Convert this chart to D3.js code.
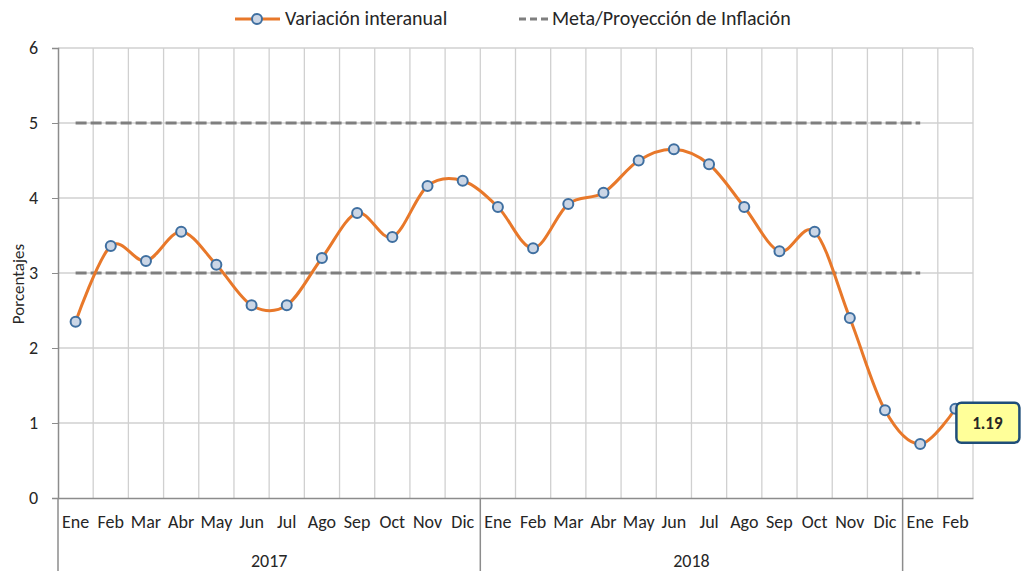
<!DOCTYPE html>
<html>
<head>
<meta charset="utf-8">
<script src="https://cdn.jsdelivr.net/npm/d3@7"></script>
<style>
  body { margin: 0; background: #fff; }
  svg text { font-family: Calibri, Carlito, "Liberation Sans", Arial, sans-serif; fill: #262626; }
</style>
</head>
<body>
<svg id="chart" width="1021" height="571"></svg>
<script>
// chart data
var months = ["Ene","Feb","Mar","Abr","May","Jun","Jul","Ago","Sep","Oct","Nov","Dic",
              "Ene","Feb","Mar","Abr","May","Jun","Jul","Ago","Sep","Oct","Nov","Dic",
              "Ene","Feb"];
var yearLabels = ["2017", "2018", ""];
var yearStart = [0, 12, 24];
var variacion = [2.35, 3.36, 3.16, 3.55, 3.11, 2.57, 2.57, 3.20, 3.80, 3.48, 4.16, 4.23,
                 3.88, 3.33, 3.92, 4.07, 4.50, 4.65, 4.45, 3.88, 3.29, 3.55, 2.40, 1.17,
                 0.72, 1.19];
var metaSup = [5,5,5,5,5,5,5,5,5,5,5,5,5,5,5,5,5,5,5,5,5,5,5,5,5];
var metaInf = [3,3,3,3,3,3,3,3,3,3,3,3,3,3,3,3,3,3,3,3,3,3,3,3,3];
var yTicks = [0, 1, 2, 3, 4, 5, 6];

var margin = {top: 48, left: 58},
    width = 915,
    height = 450;

var svg = d3.select("#chart");
var g = svg.append("g").attr("transform", "translate(" + margin.left + "," + margin.top + ")");

var x = d3.scaleBand().domain(d3.range(months.length)).range([0, width]).padding(0);
var y = d3.scaleLinear().domain([0, 6]).range([height, 0]);
var cx = function (i) { return x(i) + x.bandwidth() / 2; };

// gridlines
g.selectAll(".hgrid").data(yTicks.slice(1)).enter().append("line")
    .attr("x1", 0).attr("x2", width)
    .attr("y1", function (d) { return y(d); }).attr("y2", function (d) { return y(d); })
    .attr("stroke", "#d0d0d0").attr("stroke-width", 1.3);
g.selectAll(".vgrid").data(d3.range(1, months.length + 1)).enter().append("line")
    .attr("x1", function (d) { return d * x.step(); }).attr("x2", function (d) { return d * x.step(); })
    .attr("y1", 0).attr("y2", height)
    .attr("stroke", "#d0d0d0").attr("stroke-width", 1.3);

// y axis
var yAxis = g.append("g").call(d3.axisLeft(y).tickValues(yTicks).tickSize(6).tickPadding(14).tickFormat(d3.format("d")));
yAxis.select(".domain").attr("stroke", "#8c8c8c").attr("stroke-width", 1.5);
yAxis.selectAll(".tick line").attr("stroke", "#8c8c8c");
yAxis.selectAll("text").style("font-size", "18px").attr("fill", "#262626");

// x axis
var xAxis = g.append("g").attr("transform", "translate(0," + height + ")")
    .call(d3.axisBottom(x).tickSize(0).tickPadding(17).tickFormat(function (i) { return months[i]; }));
xAxis.select(".domain").attr("stroke", "#8c8c8c").attr("stroke-width", 1.5);
xAxis.selectAll("text").style("font-size", "18px").attr("fill", "#262626");

// year groups
g.selectAll(".ysep").data(yearStart).enter().append("line")
    .attr("x1", function (d) { return x(d); }).attr("x2", function (d) { return x(d); })
    .attr("y1", height).attr("y2", height + 80)
    .attr("stroke", "#8c8c8c").attr("stroke-width", 1.5);
g.selectAll(".ylab").data(yearLabels).enter().append("text")
    .attr("x", function (d, i) {
        var end = i + 1 < yearStart.length ? yearStart[i + 1] : months.length;
        return (x(yearStart[i]) + end * x.step()) / 2;
    })
    .attr("y", height + 69)
    .attr("text-anchor", "middle")
    .style("font-size", "18px")
    .text(function (d) { return d; });

// y title
svg.append("text")
    .attr("transform", "translate(24,284)rotate(-90)")
    .attr("text-anchor", "middle")
    .style("font-size", "17px")
    .text("Porcentajes");

// meta lines
[metaSup, metaInf].forEach(function (arr) {
    g.append("path")
        .datum(arr)
        .attr("fill", "none")
        .attr("stroke", "#7f7f7f")
        .attr("stroke-width", 3)
        .attr("stroke-dasharray", "11,4")
        .attr("d", d3.line().x(function (d, i) { return cx(i); }).y(function (d) { return y(d); }));
});

// main series
g.append("path")
    .datum(variacion)
    .attr("fill", "none")
    .attr("stroke", "#e8782a")
    .attr("stroke-width", 3)
    .attr("d", d3.line().curve(d3.curveCatmullRom.alpha(0))
        .x(function (d, i) { return cx(i); }).y(function (d) { return y(d); }));

g.selectAll(".pt").data(variacion).enter().append("circle")
    .attr("cx", function (d, i) { return cx(i); })
    .attr("cy", function (d) { return y(d); })
    .attr("r", 5)
    .attr("fill", "#cbd6e6")
    .attr("stroke", "#3f6fa0")
    .attr("stroke-width", 2);

// data label on last point
var last = variacion.length - 1;
var lx = cx(last), ly = y(variacion[last]);
g.append("rect")
    .attr("x", lx + 1).attr("y", ly - 6)
    .attr("width", 63).attr("height", 40)
    .attr("rx", 5)
    .attr("fill", "#ffff99")
    .attr("stroke", "#1f4e79")
    .attr("stroke-width", 2.5);
g.append("text")
    .attr("x", lx + 32).attr("y", ly + 20)
    .attr("text-anchor", "middle")
    .style("font-size", "17px")
    .style("font-weight", "bold")
    .text(variacion[last].toFixed(2));

// legend
var leg = svg.append("g");
leg.append("line").attr("x1", 235).attr("x2", 280).attr("y1", 19).attr("y2", 19)
    .attr("stroke", "#e8782a").attr("stroke-width", 3);
leg.append("circle").attr("cx", 257).attr("cy", 19).attr("r", 5)
    .attr("fill", "#cbd6e6").attr("stroke", "#3f6fa0").attr("stroke-width", 2);
leg.append("text").attr("x", 285).attr("y", 25).style("font-size", "20px").text("Variación interanual");
leg.append("line").attr("x1", 519).attr("x2", 548).attr("y1", 19).attr("y2", 19)
    .attr("stroke", "#7f7f7f").attr("stroke-width", 3).attr("stroke-dasharray", "7,4");
leg.append("text").attr("x", 552).attr("y", 25).style("font-size", "20px").text("Meta/Proyección de Inflación");
</script>
</body>
</html>
